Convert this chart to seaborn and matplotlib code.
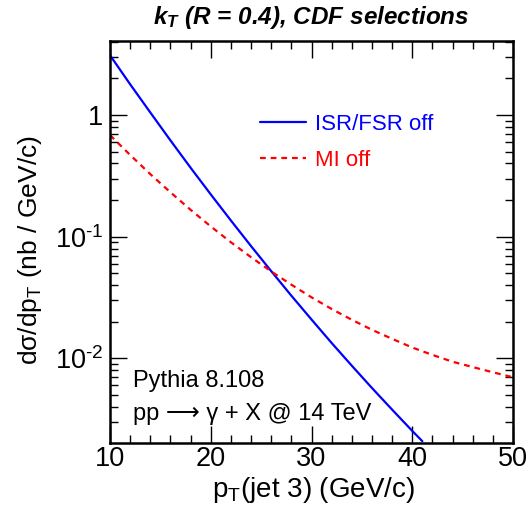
import numpy as np
import pandas as pd
import matplotlib
matplotlib.use("Agg")
import matplotlib.pyplot as plt
import seaborn as sns
from matplotlib.ticker import FixedLocator, FixedFormatter, MultipleLocator, LogLocator, NullFormatter

# ---- data ----
pt_isr = [10, 12, 14, 16, 18, 20, 22, 24, 26, 28, 30, 32, 34, 36, 38, 40, 41]
xs_isr = [3.10, 1.79, 1.05, 0.619, 0.369, 0.223, 0.136, 0.0838, 0.0522, 0.0328,
          0.0209, 0.0134, 0.00872, 0.00572, 0.00380, 0.00254, 0.00209]
pt_mi = [10, 12, 14, 16, 18, 20, 22, 24, 26, 28, 30, 32, 34, 36, 38, 40, 42, 44, 46, 48, 50]
xs_mi = [0.685, 0.470, 0.327, 0.232, 0.1665, 0.1216, 0.0901, 0.0679, 0.0519, 0.0404,
         0.0318, 0.0255, 0.0208, 0.0172, 0.0145, 0.0123, 0.0107, 0.0094, 0.0085, 0.0077, 0.0070]
label_isr = "ISR/FSR off"
label_mi = "MI off"
ytick_vals = [1, 0.1, 0.01]
ytick_labels = ["1", r"$\mathregular{10^{\text{-1}}}$", r"$\mathregular{10^{\text{-2}}}$"]
xtick_vals = [10, 20, 30, 40, 50]

sns.set_style("ticks")
plt.rcParams['font.family'] = ['Liberation Sans', 'DejaVu Sans']
plt.rcParams['text.color'] = 'black'
plt.rcParams['axes.labelcolor'] = 'black'
plt.rcParams['xtick.color'] = 'black'
plt.rcParams['ytick.color'] = 'black'
plt.rcParams['mathtext.fontset'] = 'custom'
plt.rcParams['mathtext.rm'] = 'Liberation Sans'
plt.rcParams['mathtext.it'] = 'Liberation Sans:italic'
plt.rcParams['mathtext.bf'] = 'Liberation Sans:bold'
plt.rcParams['mathtext.bfit'] = 'Liberation Sans:italic:bold'

df_isr = pd.DataFrame({"pt": pt_isr, "xs": xs_isr})
df_mi = pd.DataFrame({"pt": pt_mi, "xs": xs_mi})

fig = plt.figure(figsize=(5.30, 5.11), dpi=100)
ax = fig.add_axes([110/530, 68/511, 403/530, 402/511])

sns.lineplot(data=df_isr, x="pt", y="xs", ax=ax, color="#0000ff", lw=1.6, label=label_isr)
sns.lineplot(data=df_mi, x="pt", y="xs", ax=ax, color="#ff0000", lw=1.6, label=label_mi)
ax.lines[1].set_dashes((2.6, 2.2))

ax.set_yscale("log")
ax.set_xlim(10, 50)
ax.set_ylim(0.00202, 4.06)

ax.xaxis.set_major_locator(FixedLocator(xtick_vals))
ax.xaxis.set_minor_locator(MultipleLocator(2))
ax.yaxis.set_major_locator(FixedLocator(ytick_vals))
ax.yaxis.set_major_formatter(FixedFormatter(ytick_labels))
ax.yaxis.set_minor_locator(LogLocator(base=10, subs=np.arange(2, 10)))
ax.yaxis.set_minor_formatter(NullFormatter())

ax.tick_params(which="both", direction="in", top=True, right=True, width=1.0, colors="black")
ax.tick_params(which="major", length=12, labelsize=19.5)
ax.tick_params(axis="x", which="major", pad=2)
ax.tick_params(axis="y", which="major", pad=5)
ax.tick_params(which="minor", length=6)
for s in ax.spines.values():
    s.set_linewidth(1.8)
    s.set_color("black")

ax.set_xlabel(r"p$_\mathregular{T}$(jet 3) (GeV/c)", fontsize=20)
ax.xaxis.label.set_va("center")
ax.xaxis.set_label_coords(0.505, -0.117)
ax.set_ylabel(r"d$\mathregular{\sigma}$/dp$_\mathregular{T}$ (nb / GeV/c)", fontsize=19)
ax.yaxis.label.set_va("center")
ax.yaxis.set_label_coords(-0.199, 0.48)

fig.text(0.587, 0.965, r"$\mathbfit{k}_\mathbfit{T}$ (R = 0.4), CDF selections",
         ha="center", va="center", fontsize=17.5, fontweight="bold", fontstyle="italic")

leg = ax.legend(loc="upper left", bbox_to_anchor=(0.372, 0.818), frameon=False,
                fontsize=16, handlelength=2.07, handletextpad=0.4, labelspacing=0.65,
                borderpad=0, borderaxespad=0, labelcolor="linecolor")

ax.text(0.057, 0.154, "Pythia 8.108", transform=ax.transAxes, fontsize=17, va="center",
        family=['Liberation Sans', 'DejaVu Sans'])
ax.text(0.057, 0.072, "pp \u27f6 \u03b3 + X @ 14 TeV", transform=ax.transAxes, fontsize=17,
        va="center", family=['Liberation Sans', 'DejaVu Sans'])

fig.savefig("out.png", dpi=100)
